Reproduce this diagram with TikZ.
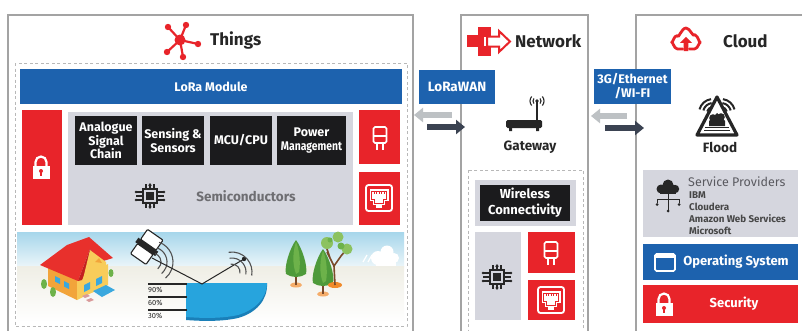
\documentclass[tikz,border=0pt]{standalone}
\usepackage{fontspec}
\setmainfont{Fira Sans}
\usetikzlibrary{arrows.meta}

\definecolor{iotred}{HTML}{E8242A}
\definecolor{iotblue}{HTML}{1D62AE}
\definecolor{boxblack}{HTML}{1B1B1D}
\definecolor{lav}{HTML}{D5D6DE}
\definecolor{panelgray}{HTML}{A3A3A3}
\definecolor{dashgray}{HTML}{B8B8B8}
\definecolor{arrowdark}{HTML}{3B4352}
\definecolor{arrowlight}{HTML}{BDC1C4}
\definecolor{inkdark}{HTML}{262626}
\definecolor{semigray}{HTML}{6E6E72}
\definecolor{provgray}{HTML}{5A5A60}
\definecolor{pond}{HTML}{27A4DD}
\definecolor{ponddark}{HTML}{1A7FB8}
\definecolor{sky}{HTML}{A6D6EB}
\definecolor{skylight}{HTML}{EAF5F9}
\definecolor{ground}{HTML}{EFEEE5}
\definecolor{pine}{HTML}{4E9A3A}
\definecolor{pinelight}{HTML}{6DB24A}
\definecolor{leaf}{HTML}{8CC260}
\definecolor{bark}{HTML}{7A4A2A}
\definecolor{soil}{HTML}{F08A2A}
\definecolor{roof}{HTML}{E8302C}
\definecolor{roofdark}{HTML}{C41F1F}
\definecolor{wall}{HTML}{F8CC5A}
\definecolor{wallside}{HTML}{F2A43A}
\definecolor{glass}{HTML}{3AA8DE}
\definecolor{stone}{HTML}{D99A9A}

\tikzset{
  panel/.style={draw=panelgray, line width=1.3pt, fill=white},
  dashbox/.style={draw=dashgray, line width=0.9pt, dash pattern=on 3pt off 2.5pt},
  titletext/.style={font=\bfseries\fontsize{17}{17}\selectfont, text=inkdark, anchor=west, inner sep=0},
  blackbox/.style={fill=boxblack, text=white, font=\bfseries\fontsize{12.5}{13.5}\selectfont, align=center, inner sep=0},
  bluebox/.style={fill=iotblue, text=white, font=\bfseries\fontsize{12.5}{14}\selectfont, align=center, inner sep=0},
  redbox/.style={fill=iotred, inner sep=0},
  lavbox/.style={fill=lav, inner sep=0},
  caption/.style={font=\bfseries\fontsize{13.5}{14}\selectfont, text=inkdark, inner sep=0},
  linkdark/.style={draw=arrowdark, line width=6pt, -{Triangle[length=9pt,width=14pt]}},
  linklight/.style={draw=arrowlight, line width=6pt, -{Triangle[length=9pt,width=14pt]}},
  pct/.style={font=\fontsize{7.5}{7.5}\selectfont, text=inkdark, anchor=west, inner sep=0},
  % white padlock
  lockpic/.pic={
    \draw[white, line width=2.2pt] (-5.5,1) -- (-5.5,-4) arc[start angle=180,end angle=360,radius=5.5] -- (5.5,1);
    \fill[white] (-8.5,0) rectangle (8.5,13);
    \fill[iotred] (0,5) circle (2);
    \fill[iotred] (-1,5) rectangle (1,9.5);
  },
  % white plug outline
  plugpic/.pic={
    \draw[white, line width=1.7pt, rounded corners=1.5pt] (-6.5,-12) rectangle (6.5,4);
    \draw[white, line width=1.3pt] (-6.5,-3) -- (6.5,-3);
    \draw[white, line width=1.7pt] (-3,4) -- (-3,11) (3,4) -- (3,11);
  },
  % white ethernet port
  ethpic/.pic={
    \draw[white, line width=1.8pt, rounded corners=2.5pt] (-13,-13) rectangle (13,13);
    \fill[white] (-9.5,-9) rectangle (9.5,3);
    \fill[white] (-6,3) rectangle (6,7);
    \fill[white] (-3,7) rectangle (3,9.5);
    \draw[iotred, line width=0.9pt] (-7.5,-7) -- (7.5,-7) -- (7.5,1.5) -- (4.5,1.5) -- (4.5,5) -- (-4.5,5) -- (-4.5,1.5) -- (-7.5,1.5) -- cycle;
    \foreach \u in {-5,-2.5,0,2.5,5} \draw[iotred, line width=0.6pt] (\u,-7) -- (\u,-4);
  },
  % black chip with pins
  chippic/.pic={
    \draw[inkdark, line width=1.3pt] (-7,-7) rectangle (7,7);
    \fill[inkdark] (-4,-4) rectangle (4,4);
    \foreach \t in {-4,0,4} {
      \draw[inkdark, line width=1.1pt] (-14,\t) -- (-7,\t) (7,\t) -- (14,\t) (\t,-7) -- (\t,-12) (\t,7) -- (\t,12);
    }
    \foreach \t in {-4,4} {
      \fill[inkdark] (-14,\t) circle (1.3) (14,\t) circle (1.3);
    }
    \fill[inkdark] (0,-13) -- (-1.8,-10.5) -- (1.8,-10.5) -- cycle;
    \fill[inkdark] (0,13) -- (-1.8,10.5) -- (1.8,10.5) -- cycle;
  }
}

\begin{document}
\begin{tikzpicture}[x=1pt,y=-1pt]
\useasboundingbox (0,0) rectangle (802,330);
\fill[white] (0,0) rectangle (802,330);
\clip (0,0) rectangle (802,330);

% ---------------- panels ----------------
\draw[panel] (8,15) rectangle (413,345);
\draw[panel] (461,15) rectangle (588,345);
\draw[panel] (636,15) rectangle (820,345);

% ---------------- Things ----------------
% hub icon
\begin{scope}[iotred]
  \foreach \p in {(168,27),(186,25),(198,44),(183,57),(167,52)} {
    \draw[line width=2.2pt] (180,40) -- \p;
    \fill \p circle (3.2);
  }
  \fill (180,40) circle (5.5);
\end{scope}
\node[titletext] (things) at (210,40) {Things};

\draw[dashbox] (15,63) rectangle (407,326);
\node[bluebox, minimum width=382pt, minimum height=35pt] (lora) at (211,86.5) {LoRa Module};

\node[redbox, minimum width=40pt, minimum height=115pt] (tlock) at (42,167.5) {};
\pic at (41,166) {lockpic};

\node[lavbox, minimum width=285pt, minimum height=113pt] (semi) at (210.5,168.5) {};
\node[blackbox, minimum width=62pt, minimum height=49pt] (asc) at (106,140.5) {Analogue\\Signal\\Chain};
\node[blackbox, minimum width=62pt, minimum height=49pt] (sens) at (173,140.5) {Sensing \&\\Sensors};
\node[blackbox, minimum width=62pt, minimum height=49pt] (mcu) at (241,140.5) {MCU/CPU};
\node[blackbox, minimum width=69pt, minimum height=49pt] (pwr) at (311.5,140.5) {Power\\\scalebox{0.83}[1]{Management}};
\pic at (150,196) {chippic};
\node[font=\bfseries\fontsize{13.5}{14}\selectfont, text=semigray, inner sep=0] (semitxt) at (246,196) {Semiconductors};

\node[redbox, minimum width=41pt, minimum height=54pt] (tplug) at (379.5,137) {};
\pic at (380,139) {plugpic};
\node[redbox, minimum width=41pt, minimum height=53pt] (teth) at (379.5,198.5) {};
\pic at (379,198) {ethpic};

% ---------------- landscape strip ----------------
\shade[top color=sky, bottom color=skylight] (17,232) rectangle (404,266);
\shade[top color=ground, bottom color=white] (17,266) rectangle (404,322);

% house
\fill[wallside] (48,265) -- (77,279) -- (77,300) -- (48,286) -- cycle;
\fill[wall] (77,279) -- (108,264) -- (108,285) -- (77,300) -- cycle;
\fill[roof] (40,265) -- (67,245) -- (89,237) -- (113,258) -- (100,262) -- (90,249) -- (78,281) -- cycle;
\fill[roofdark] (78,281) -- (90,249) -- (94,254) -- (82,280) -- cycle;
\fill[wall] (90,250) -- (106,262) -- (106,268) -- (83,279) -- cycle;
\fill[wallside] (95,262) -- (99,258) -- (102,263) -- cycle;
\foreach \wx/\wy in {55/276,64/281} \fill[glass] (\wx,\wy) -- (\wx+5,\wy+2.5) -- (\wx+5,\wy+8) -- (\wx,\wy+5.5) -- cycle;
\foreach \wx/\wy in {84/285,96/279} \fill[glass] (\wx,\wy) -- (\wx+6,\wy-3) -- (\wx+6,\wy+4) -- (\wx,\wy+7) -- cycle;
\fill[glass] (93,291) -- (106,285) -- (115,290) -- (102,297) -- cycle;
\fill[stone] (82,296) -- (87,294) -- (90,296) -- (85,298) -- cycle;
\fill[stone] (86,300) -- (91,298) -- (94,300) -- (89,302) -- cycle;
\fill[pinelight] (44,284) ellipse (3 and 5);
\fill[pinelight] (53,292) ellipse (3 and 5);
\fill[pinelight] (111,273) ellipse (2.5 and 4);

% left sensor head
\begin{scope}[shift={(146,248)}, rotate=-35, scale=1.35]
  \draw[inkdark, fill=white, line width=1.1pt, rounded corners=1pt] (-7,-12) rectangle (7,-3);
  \draw[inkdark, fill=white, line width=1.1pt, rounded corners=1pt] (-7,1) rectangle (7,10);
  \fill[inkdark] (-9,-3) rectangle (9,1);
\end{scope}
\foreach \r in {9,15,21} \draw[inkdark!80, line width=1.1pt] ([shift={(-70:\r)}]152,262) arc[start angle=-70,end angle=50,radius=\r];

% pond and sensing links
\coordinate (sensA) at (152,258);
\coordinate (sensB) at (202,284);
\coordinate (sensC) at (244,259);
\fill[ponddark] (186,283) -- (267,283) .. controls (268,300) and (256,313) .. (238,318) .. controls (220,322) and (200,321) .. (186,320) -- cycle;
\fill[pond] (186,283) -- (267,283) .. controls (267,298) and (255,310) .. (238,315) .. controls (220,319) and (200,318) .. (186,317) -- cycle;
\draw[inkdark, line width=1pt] (sensA) -- (sensB) -- (sensC);
\fill[inkdark] (sensC) circle (2.2);
\foreach \r in {8,14,20} \draw[inkdark!80, line width=1.1pt] ([shift={(-100:\r)}]232,272) arc[start angle=-100,end angle=10,radius=\r];

% level marks
\foreach \ly/\lt in {284/90\%,297/60\%,310/30\%} {
  \draw[inkdark, line width=1.4pt] (148,\ly) -- (187,\ly);
  \node[pct] at (148,\ly+5.5) {\lt};
}

% trees
\foreach \tx/\ty in {296/240,323/249} {
  \fill[soil!70] (\tx,\ty+45) ellipse (6 and 2.5);
  \fill[bark] (\tx-1.2,\ty+32) rectangle (\tx+1.2,\ty+45);
  \fill[pine] (\tx,\ty) .. controls (\tx+6,\ty+8) and (\tx+12,\ty+26) .. (\tx+10,\ty+34) .. controls (\tx+4,\ty+38) and (\tx-4,\ty+38) .. (\tx-10,\ty+34) .. controls (\tx-12,\ty+26) and (\tx-6,\ty+8) .. (\tx,\ty) -- cycle;
  \fill[pinelight] (\tx,\ty+2) .. controls (\tx+3,\ty+8) and (\tx+5,\ty+22) .. (\tx+3,\ty+32) -- (\tx,\ty+34) .. controls (\tx-4,\ty+24) and (\tx-3,\ty+10) .. (\tx,\ty+2) -- cycle;
}
\fill[soil] (335,285) ellipse (7 and 3);
\draw[bark, line width=1.6pt] (335,285) -- (334,266) -- (327,252) (334,266) -- (341,256) -- (346,250) (330,258) -- (326,246);
\fill[leaf] (327,243) circle (6);
\fill[leaf] (338,237) circle (5.5);
\fill[leaf] (347,249) circle (5.5);
\fill[pinelight] (341,246) circle (3.5);
\fill[pinelight] (330,240) circle (2.5);

% rain cloud
\foreach \rx in {363,368,373} \draw[white, line width=1.2pt] (\rx,262) -- (\rx+4,255);
\fill[white] (378,258) circle (7);
\fill[white] (387,252) circle (6.5);
\fill[white] (394,258) circle (5);
\fill[white] (376,258) rectangle (396,266);

% ---------------- Network ----------------
\fill[iotred] (467,35) rectangle (482,47);
\fill[iotred] (478,27) rectangle (491,56);
\fill[white] (484,37) rectangle (491,46);
\draw[iotred, fill=white, line width=2pt, line join=miter] (487,36.5) -- (499,36.5) -- (499,31) -- (510,41.5) -- (499,52) -- (499,46.5) -- (487,46.5) -- cycle;
\node[titletext] (nettitle) at (515,41) {Network};

\node[bluebox, font=\bfseries\fontsize{13.5}{14}\selectfont, minimum width=76pt, minimum height=34pt] (lorawan) at (457,87) {LoRaWAN};
\coordinate (lwfrom) at (452,115);
\coordinate (lwto) at (414,115);
\coordinate (lwin) at (427,127);
\coordinate (lwout) at (465,127);
\draw[linklight] (lwfrom) -- (lwto);
\draw[linkdark] (lwin) -- (lwout);

% gateway router
\fill[inkdark, rounded corners=1.5pt] (506,120) rectangle (542,128);
\fill[inkdark] (509,127) rectangle (512,131) (536,127) rectangle (539,131);
\draw[inkdark, line width=1.8pt] (537,102) -- (537,121);
\fill[inkdark] (537,101) circle (1.8);
\foreach \r in {4,7} {
  \draw[inkdark, line width=1.1pt] ([shift={(140:\r)}]537,101) arc[start angle=140,end angle=220,radius=\r];
  \draw[inkdark, line width=1.1pt] ([shift={(-40:\r)}]537,101) arc[start angle=-40,end angle=40,radius=\r];
}
\node[caption] (gateway) at (530,147) {Gateway};

\draw[dashbox] (468,170) rectangle (583,340);
\node[lavbox, minimum width=101pt, minimum height=46pt] (wlback) at (525.5,203) {};
\node[blackbox, font=\bfseries\fontsize{13}{16}\selectfont, minimum width=90pt, minimum height=36pt] (wireless) at (525,203) {Wireless\\Connectivity};
\node[lavbox, minimum width=46pt, minimum height=88pt] (nsemi) at (498,276) {};
\pic at (497,277) {chippic};
\node[redbox, minimum width=47pt, minimum height=41pt] (nplug) at (551.5,252.5) {};
\pic at (551,254) {plugpic};
\node[redbox, minimum width=47pt, minimum height=40pt] (neth) at (551.5,300) {};
\pic at (551,300) {ethpic};

% ---------------- Cloud ----------------
\begin{scope}[shift={(686,39)}, scale=1.1]
  \draw[iotred, line width=2.8pt, line cap=round, line join=round] (-3,9) -- (-8,9) to[out=180,in=90] (-13,3) to[out=-90,in=160] (-8,-3) to[out=-80,in=180] (0,-10) to[out=0,in=-110] (8,-4) to[out=-20,in=-90] (13,3) to[out=90,in=0] (8,9) -- (3,9);
  \fill[iotred] (0,-2) -- (-5.5,3.5) -- (-2.2,3.5) -- (-2.2,11) -- (2.2,11) -- (2.2,3.5) -- (5.5,3.5) -- cycle;
\end{scope}
\node[titletext] (cloudtitle) at (723,41) {Cloud};

\node[bluebox, font=\bfseries\fontsize{12.5}{14}\selectfont, minimum width=77pt, minimum height=35pt] (gwifi) at (632.5,86.5) {3G/Ethernet\\/WI-FI};
\coordinate (cwfrom) at (627,116);
\coordinate (cwto) at (591,116);
\coordinate (cwin) at (605,128);
\coordinate (cwout) at (644,128);
\draw[linklight] (cwfrom) -- (cwto);
\draw[linkdark] (cwin) -- (cwout);

% flood warning sign
\draw[inkdark, line width=3.2pt, line join=round] (717,97) -- (737,135) -- (697,135) -- cycle;
\fill[inkdark] (709,121) -- (717,113) -- (725,121) -- (725,126) -- (709,126) -- cycle;
\fill[inkdark] (713,118) circle (3.8) (721,117) circle (3.8);
\draw[inkdark, line width=1pt] (705,127) -- (729,127) (704,130) -- (730,130);
\foreach \r in {6,10,14} {
  \draw[inkdark, line width=2pt] ([shift={(195:\r)}]713,113) arc[start angle=195,end angle=262,radius=\r];
  \draw[inkdark, line width=2pt] ([shift={(278:\r)}]721,113) arc[start angle=278,end angle=345,radius=\r];
}
\node[caption] (flood) at (720,147) {Flood};

% providers
\node[lavbox, minimum width=155pt, minimum height=67pt] (prov) at (720,203.5) {};
\fill[inkdark] (661,189) circle (4.5) (668,185) circle (5.5) (675,189) circle (4.2);
\fill[inkdark] (660,189) rectangle (676,194);
\draw[inkdark, line width=1pt] (668,193) -- (668,210) (657,199) -- (679,199) (657,199) -- (657,203) (679,199) -- (679,203);
\fill[inkdark] (657,204.5) circle (1.5) (679,204.5) circle (1.5) (668,211) circle (1.5);
\node[font=\fontsize{12.5}{12.5}\selectfont, text=provgray, anchor=west, inner sep=0] (provtitle) at (688,182) {Service Providers};
\foreach \py/\pn in {195/IBM,207/Cloudera,219/Amazon Web Services,231/Microsoft}
  \node[font=\bfseries\fontsize{9.8}{9.8}\selectfont, text=inkdark!85, anchor=west, inner sep=0] at (689,\py) {\pn};

\node[bluebox, minimum width=155pt, minimum height=36pt] (os) at (720,261.5) {};
\draw[white, line width=1.6pt, rounded corners=1.5pt] (655,254) rectangle (675,271);
\fill[white] (655,254) rectangle (675,258);
\node[font=\bfseries\fontsize{13}{13}\selectfont, text=white, inner sep=0] (ostxt) at (736,262) {Operating System};

\node[redbox, minimum width=155pt, minimum height=38pt] (sec) at (720,304) {};
\begin{scope}[shift={(664,303)}, scale=0.85]
  \pic at (0,0) {lockpic};
\end{scope}
\node[font=\bfseries\fontsize{13}{13}\selectfont, text=white, inner sep=0] (sectxt) at (734,304) {Security};

\end{tikzpicture}
\end{document}
